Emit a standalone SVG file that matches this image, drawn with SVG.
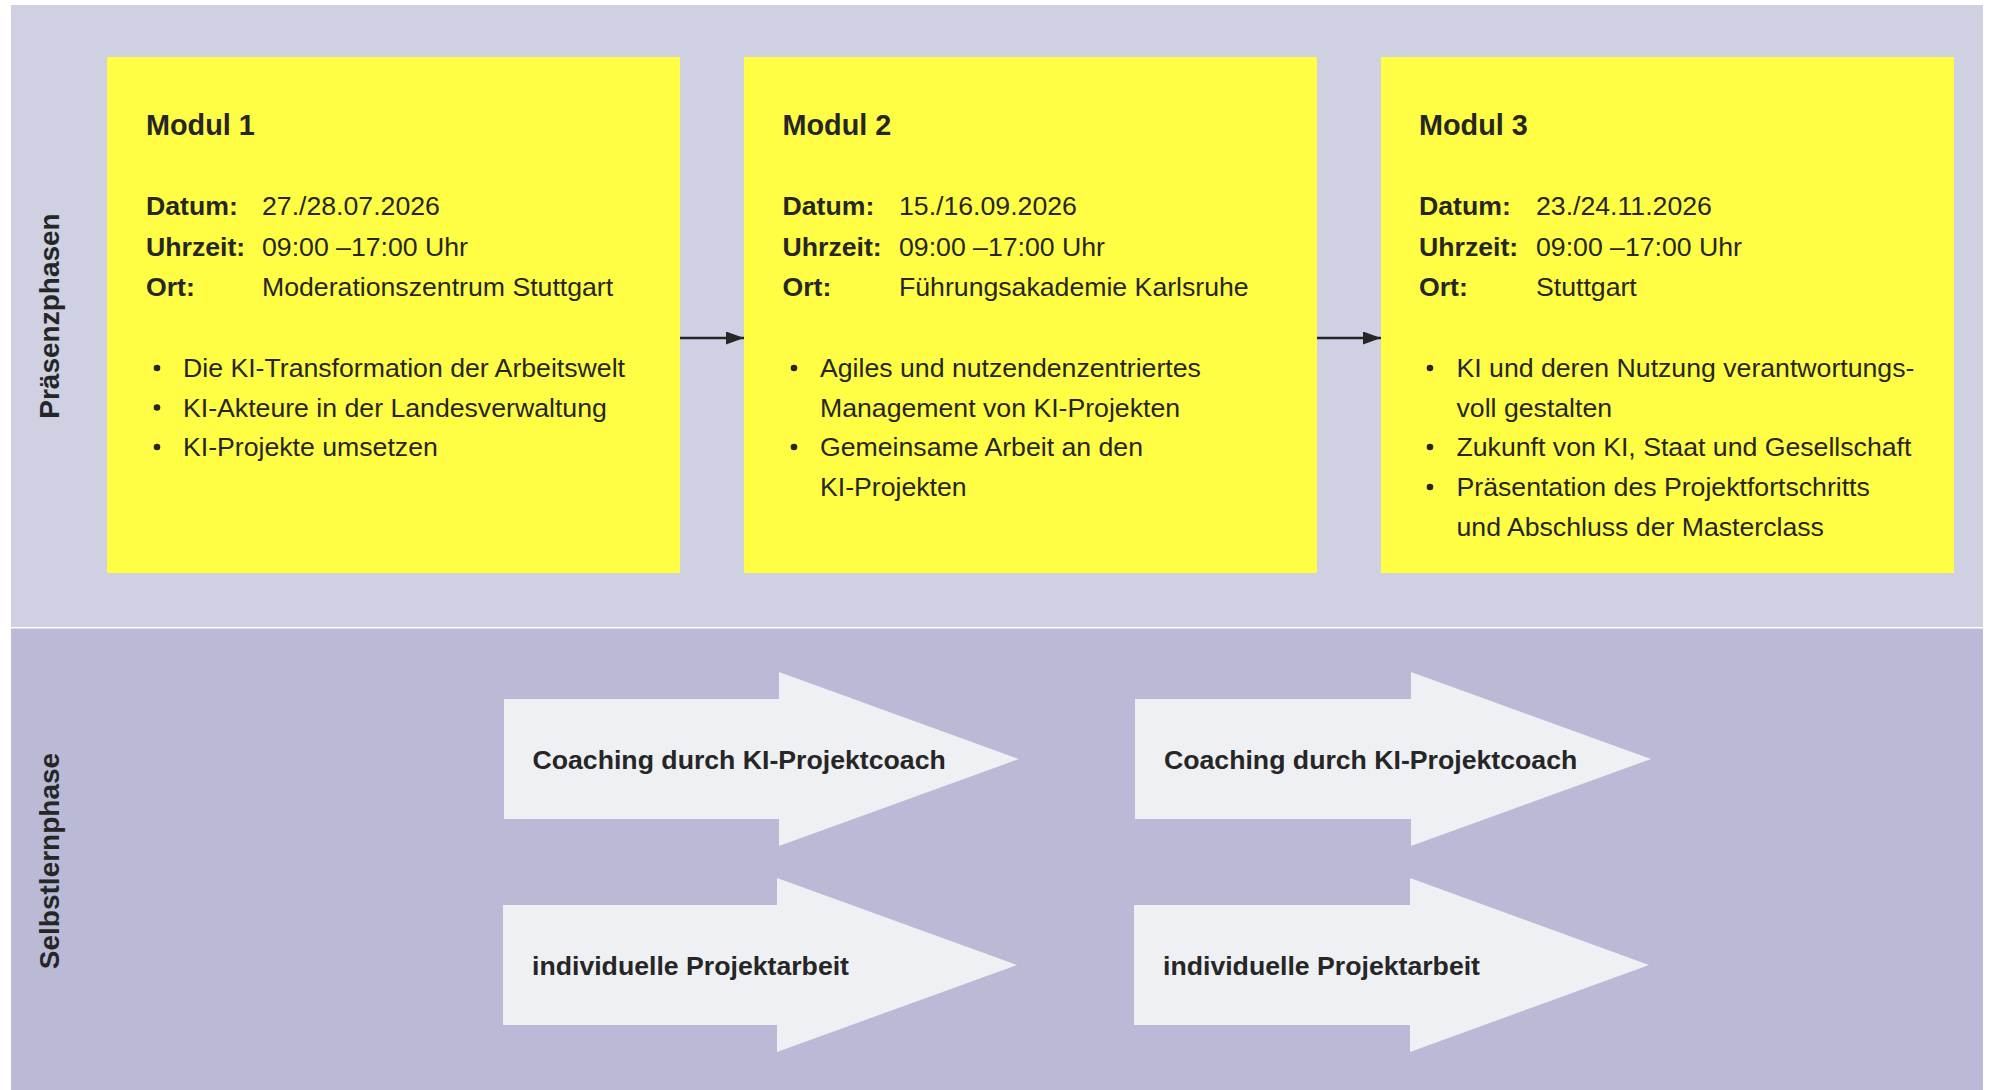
<svg xmlns="http://www.w3.org/2000/svg" width="1991" height="1090" viewBox="0 0 1991 1090">
<defs>
<style>
text{font-family:"Liberation Sans",Arial,sans-serif;fill:#262626}
.t{font-size:28.8px;font-weight:bold}
.l{font-size:26.67px;font-weight:bold}
.v{font-size:26.67px}
.a{font-size:26.67px;font-weight:bold}
.side{font-size:28px;font-weight:bold;text-anchor:middle}
.box{fill:#FFFD44}
.arr{fill:#EFF0F4}
.dot{fill:#262626}
.conn{stroke:#262626;stroke-width:2.5;fill:none}
</style>
<marker id="ah" markerWidth="18" markerHeight="13" refX="18" refY="6.5" orient="auto" markerUnits="userSpaceOnUse">
<path d="M0,0 L18,6.5 L0,13 Z" fill="#262626"/>
</marker>
</defs>
<rect width="1991" height="1090" fill="#FFFFFF"/>
<rect id="praesenz-bg" x="11" y="5" width="1972" height="622" fill="#CFD0E2"/>
<rect id="selbst-bg" x="11" y="628.5" width="1972" height="461.5" fill="#BABAD7"/>
<text class="side" transform="translate(58.5 316) rotate(-90)">Präsenzphasen</text>
<text class="side" transform="translate(59 861) rotate(-90)">Selbstlernphase</text>

<g id="modul1">
<rect class="box" x="107" y="57" width="573" height="516"/>
<text class="t" x="146" y="135">Modul 1</text>
<text class="l" x="146" y="215">Datum:</text><text class="v" x="262" y="215">27./28.07.2026</text>
<text class="l" x="146" y="255.5">Uhrzeit:</text><text class="v" x="262" y="255.5">09:00 –17:00 Uhr</text>
<text class="l" x="146" y="296">Ort:</text><text class="v" x="262" y="296">Moderationszentrum Stuttgart</text>
<circle class="dot" cx="157" cy="368" r="3.3"/><text class="v" x="183" y="377">Die KI-Transformation der Arbeitswelt</text>
<circle class="dot" cx="157" cy="407.5" r="3.3"/><text class="v" x="183" y="416.5">KI-Akteure in der Landesverwaltung</text>
<circle class="dot" cx="157" cy="447" r="3.3"/><text class="v" x="183" y="456">KI-Projekte umsetzen</text>
</g>

<g id="modul2">
<rect class="box" x="744" y="57" width="573" height="516"/>
<text class="t" x="782.5" y="135">Modul 2</text>
<text class="l" x="782.5" y="215">Datum:</text><text class="v" x="899" y="215">15./16.09.2026</text>
<text class="l" x="782.5" y="255.5">Uhrzeit:</text><text class="v" x="899" y="255.5">09:00 –17:00 Uhr</text>
<text class="l" x="782.5" y="296">Ort:</text><text class="v" x="899" y="296">Führungsakademie Karlsruhe</text>
<circle class="dot" cx="794" cy="368" r="3.3"/><text class="v" x="820" y="377">Agiles und nutzendenzentriertes</text>
<text class="v" x="820" y="416.5">Management von KI-Projekten</text>
<circle class="dot" cx="794" cy="447" r="3.3"/><text class="v" x="820" y="456">Gemeinsame Arbeit an den</text>
<text class="v" x="820" y="496">KI-Projekten</text>
</g>

<g id="modul3">
<rect class="box" x="1381" y="57" width="573" height="516"/>
<text class="t" x="1419" y="135">Modul 3</text>
<text class="l" x="1419" y="215">Datum:</text><text class="v" x="1536" y="215">23./24.11.2026</text>
<text class="l" x="1419" y="255.5">Uhrzeit:</text><text class="v" x="1536" y="255.5">09:00 –17:00 Uhr</text>
<text class="l" x="1419" y="296">Ort:</text><text class="v" x="1536" y="296">Stuttgart</text>
<circle class="dot" cx="1430" cy="368" r="3.3"/><text class="v" x="1456.5" y="377">KI und deren Nutzung verantwortungs-</text>
<text class="v" x="1456.5" y="416.5">voll gestalten</text>
<circle class="dot" cx="1430" cy="447" r="3.3"/><text class="v" x="1456.5" y="456">Zukunft von KI, Staat und Gesellschaft</text>
<circle class="dot" cx="1430" cy="487" r="3.3"/><text class="v" x="1456.5" y="496">Präsentation des Projektfortschritts</text>
<text class="v" x="1456.5" y="536">und Abschluss der Masterclass</text>
</g>

<g id="coaching1">
<path class="arr" d="M504,699 H779 V672 L1019,759 L779,846 V819 H504 Z"/>
<text class="a" x="532.5" y="769">Coaching durch KI-Projektcoach</text>
</g>
<g id="projektarbeit1">
<path class="arr" d="M503,905 H777 V878 L1017,965 L777,1052 V1025 H503 Z"/>
<text class="a" x="532" y="975">individuelle Projektarbeit</text>
</g>
<g id="coaching2">
<path class="arr" d="M1135,699 H1411 V672 L1651,759 L1411,846 V819 H1135 Z"/>
<text class="a" x="1164" y="769">Coaching durch KI-Projektcoach</text>
</g>
<g id="projektarbeit2">
<path class="arr" d="M1134,905 H1410 V878 L1649,965 L1410,1052 V1025 H1134 Z"/>
<text class="a" x="1163" y="975">individuelle Projektarbeit</text>
</g>

<g id="connectors">
<line class="conn" x1="680" y1="338" x2="744" y2="338" marker-end="url(#ah)"/>
<line class="conn" x1="1317" y1="338" x2="1381" y2="338" marker-end="url(#ah)"/>
</g>
</svg>
